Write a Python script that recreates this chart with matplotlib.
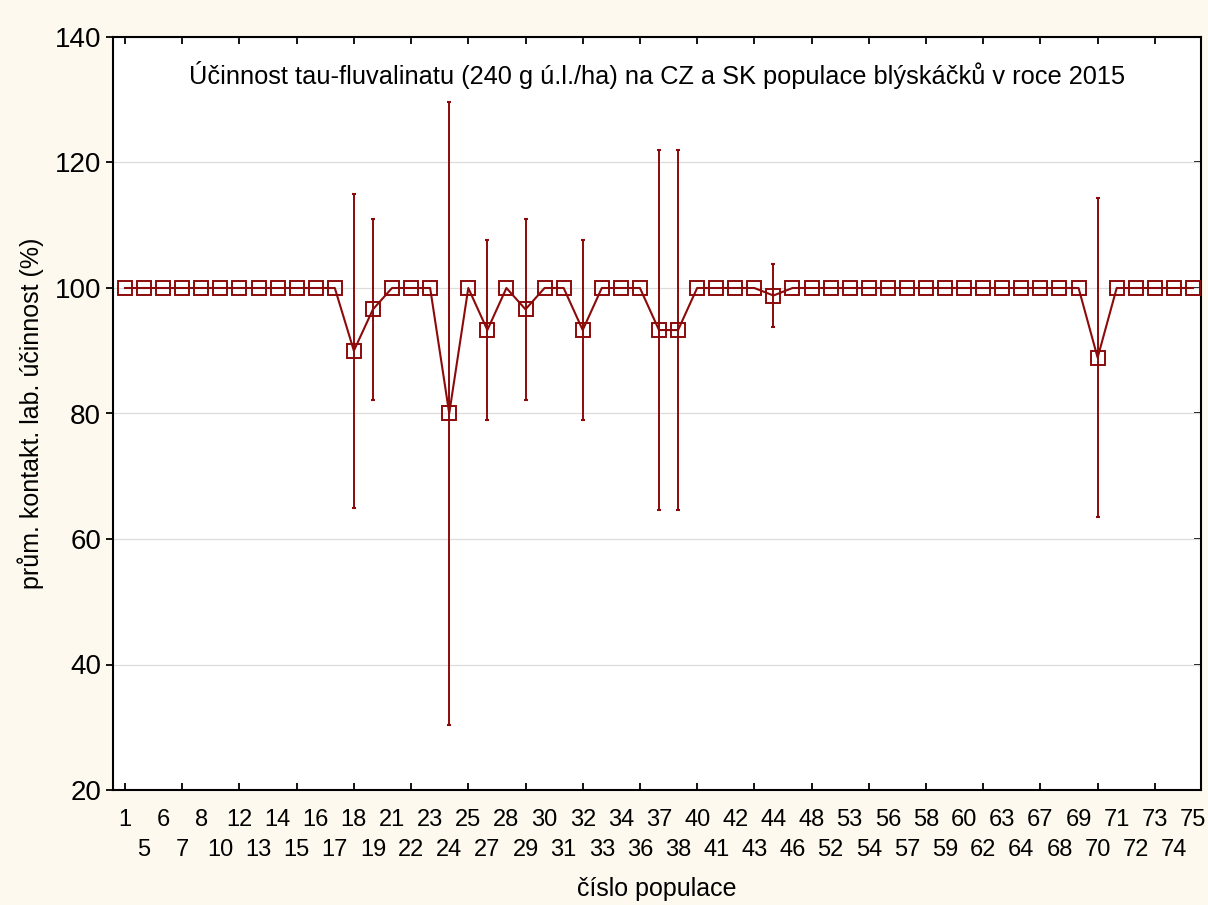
import numpy as np
import matplotlib.pyplot as plt

# Data
populations = [1, 5, 6, 7, 8, 10, 12, 13, 14, 15, 16, 17, 18, 19, 21, 22, 23, 24, 25,
               27, 28, 29, 30, 31, 32, 33, 34, 36, 37, 38, 40, 41, 42, 43, 44, 46, 48,
               52, 53, 54, 56, 57, 58, 59, 60, 62, 63, 64, 67, 68, 69, 70, 71, 72, 73,
               74, 75]
mean_eff = {18: 90.0, 19: 96.6, 24: 80.0, 27: 93.3, 29: 96.6, 32: 93.3,
            37: 93.3, 38: 93.3, 44: 98.8, 70: 88.9}
err_eff = {18: 25.0, 19: 14.4, 24: 49.7, 27: 14.4, 29: 14.4, 32: 14.4,
           37: 28.7, 38: 28.7, 44: 5.0, 70: 25.4}

values = np.array([mean_eff.get(p, 100.0) for p in populations])
errors = np.array([err_eff.get(p, 0.0) for p in populations])

red = '#8c0a0a'
plt.rcParams['font.family'] = ['Liberation Sans', 'DejaVu Sans']

fig = plt.figure(figsize=(12.08, 9.05), dpi=100, facecolor='#fdf9ee')
ax = fig.add_axes([113/1208, 1-790/905, 1088/1208, 753/905])
ax.set_facecolor('white')

x = np.arange(len(populations))
has_err = errors > 0
ax.errorbar(x[has_err], values[has_err], yerr=errors[has_err],
            fmt='none', ecolor=red, elinewidth=1.4, capsize=1.5, capthick=1.5, zorder=2)
ax.plot(x, values, color=red, lw=1.5, marker='s', markersize=9.5,
        markerfacecolor='none', markeredgecolor=red, markeredgewidth=1.4, zorder=3)

ax.set_xlim(-0.63, len(populations) - 1 + 0.42)
ax.set_ylim(20, 140)
ax.set_yticks([20, 40, 60, 80, 100, 120, 140])
ax.yaxis.grid(True, color='#dcdcdc', lw=0.9)
ax.set_axisbelow(True)

# small inward tick marks every third category, bottom and top
ax.set_xticks(x[::3], [''] * len(x[::3]))
ax.tick_params(axis='x', direction='in', length=5, width=1.3, top=True, bottom=True)

# x labels in two alternating rows
upper = ax.secondary_xaxis('bottom')
upper.set_xticks(x[0::2], [str(p) for p in populations[0::2]])
upper.tick_params(length=0, pad=14, labelsize=17)
upper.spines['bottom'].set_visible(False)
lower = ax.secondary_xaxis('bottom')
lower.set_xticks(x[1::2], [str(p) for p in populations[1::2]])
lower.tick_params(length=0, pad=35, labelsize=17)
lower.spines['bottom'].set_visible(False)
lower.set_xlabel('číslo populace', fontsize=18, labelpad=12)

ax.tick_params(axis='y', direction='out', length=5, width=1.3, labelsize=20)
secy = ax.secondary_yaxis('right')
secy.set_yticks([20, 40, 60, 80, 100, 120, 140], [''] * 7)
secy.tick_params(direction='in', length=5, width=1.3)
secy.spines['right'].set_visible(False)

for s in ax.spines.values():
    s.set_linewidth(1.5)

ax.text(0.5, 0.95, 'Účinnost tau-fluvalinatu (240 g ú.l./ha) na CZ a SK populace blýskáčků v roce 2015',
        transform=ax.transAxes, ha='center', va='center', fontsize=18.3)
ax.set_ylabel('prům. kontakt. lab. účinnost (%)', fontsize=18, labelpad=8)

fig.savefig('out.png', dpi=100, facecolor=fig.get_facecolor())
